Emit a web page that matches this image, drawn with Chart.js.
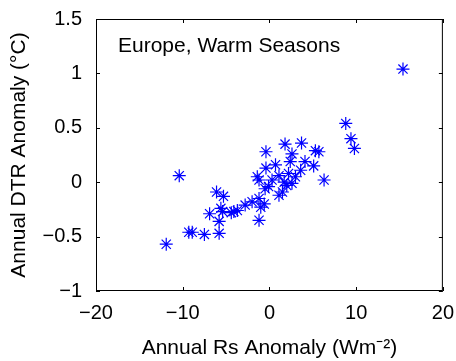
<!DOCTYPE html>
<html>
<head>
<meta charset="utf-8">
<script src="https://cdn.jsdelivr.net/npm/chart.js@4"></script>
<style>
    html, body { margin: 0; padding: 0; background: #fff; }
    #wrap { width: 456px; height: 361px; }
</style>
</head>
<body>
<div id="wrap"><canvas id="scatter"></canvas></div>
<script>
// Annual Rs anomaly (Wm-2) vs annual DTR anomaly (degC), Europe warm seasons
const rsAnomaly = [
    15.4, 8.8, 9.4, 9.8, -10.4, -11.9, -9.3, -8.9, -7.5, -5.8,
    -5.8, -6.9, -6.1, -5.3, -5.6, -4.1, -3.7, -2.8, -2.0, -1.2,
    -1.2, -1.0, -0.6, -1.4, -1.2, -0.4, -0.4, -0.1, 0.7, 1.1,
    1.1, 1.5, 1.7, 1.8, 2.2, 2.4, 2.6, 2.6, 3.6, 3.7,
    4.1, 5.1, 5.3, 5.7, 6.3, -0.5, 2.0, -5.4, -4.4, 0.3, 3.0
];
const dtrAnomaly = [
    1.04, 0.54, 0.40, 0.31, 0.06, -0.57, -0.46, -0.46, -0.48, -0.47,
    -0.36, -0.29, -0.09, -0.13, -0.24, -0.27, -0.26, -0.21, -0.18, -0.15,
    -0.35, -0.23, -0.20, 0.05, 0.02, 0.28, 0.13, -0.04, 0.16, 0.06,
    -0.12, -0.09, 0.00, 0.35, 0.08, 0.19, 0.26, -0.01, 0.11, 0.36,
    0.19, 0.15, 0.29, 0.28, 0.02, -0.06, -0.03, -0.27, -0.28, 0.02, 0.05
];
const xTicks = [-20, -10, 0, 10, 20];
const yTicks = [-1, -0.5, 0, 0.5, 1, 1.5];
const panelLabel = 'Europe, Warm Seasons';

const FONT = '"Liberation Sans", Arial, Helvetica, sans-serif';

// MATLAB-style frame: full box with inward tick marks on all four sides
const boxPlugin = {
    id: 'box',
    afterDraw(chart) {
        const { ctx, chartArea: a, scales } = chart;
        ctx.save();
        ctx.strokeStyle = '#000';
        ctx.lineWidth = 1;
        ctx.strokeRect(a.left + 0.5, a.top + 0.5, a.right - a.left - 1, a.bottom - a.top - 1);
        ctx.beginPath();
        xTicks.forEach(v => {
            const px = Math.round(scales.x.getPixelForValue(v)) + 0.5;
            ctx.moveTo(px, a.bottom); ctx.lineTo(px, a.bottom - 4);
            ctx.moveTo(px, a.top); ctx.lineTo(px, a.top + 4);
        });
        yTicks.forEach(v => {
            const py = Math.round(scales.y.getPixelForValue(v)) + 0.5;
            ctx.moveTo(a.left, py); ctx.lineTo(a.left + 4, py);
            ctx.moveTo(a.right, py); ctx.lineTo(a.right - 4, py);
        });
        ctx.stroke();
        ctx.fillStyle = '#000';
        ctx.font = '21px ' + FONT;
        ctx.textBaseline = 'middle';
        ctx.fillText(panelLabel, a.left + 22, a.top + 27);
        ctx.restore();
    }
};

new Chart(document.getElementById('scatter'), {
    type: 'scatter',
    data: {
        datasets: [{
            data: rsAnomaly.map((x, i) => ({ x, y: dtrAnomaly[i] })),
            pointStyle: 'star',
            radius: 6.5,
            borderColor: '#0000ff',
            backgroundColor: '#0000ff',
            borderWidth: 1.2
        }]
    },
    options: {
        responsive: true,
        maintainAspectRatio: false,
        animation: false,
        layout: { padding: { left: 0, right: 13, top: 19, bottom: 0 } },
        plugins: { legend: { display: false }, tooltip: { enabled: false } },
        scales: {
            x: {
                type: 'linear',
                min: -20, max: 20,
                afterBuildTicks: s => { s.ticks = xTicks.map(v => ({ value: v })); },
                afterFit: s => { s.height = 70; },
                grid: { display: false },
                border: { display: false },
                ticks: {
                    color: '#000',
                    font: { family: FONT, size: 20 },
                    padding: 2,
                    maxRotation: 0,
                    callback: v => String(v).replace('-', '\u2212')
                },
                title: {
                    display: true,
                    text: 'Annual Rs Anomaly (Wm\u207B\u00B2)',
                    color: '#000',
                    font: { family: FONT, size: 21 },
                    padding: { top: 4, bottom: 0 }
                }
            },
            y: {
                type: 'linear',
                min: -1, max: 1.5,
                afterBuildTicks: s => { s.ticks = yTicks.map(v => ({ value: v })); },
                afterFit: s => { s.width = 96; },
                grid: { display: false },
                border: { display: false },
                ticks: {
                    color: '#000',
                    font: { family: FONT, size: 20 },
                    padding: 6,
                    callback: v => String(v).replace('-', '\u2212')
                },
                title: {
                    display: true,
                    text: 'Annual DTR Anomaly (\u00B0C)',
                    color: '#000',
                    font: { family: FONT, size: 21 },
                    padding: { top: 7, bottom: 0 }
                }
            }
        }
    },
    plugins: [boxPlugin]
});
</script>
</body>
</html>
